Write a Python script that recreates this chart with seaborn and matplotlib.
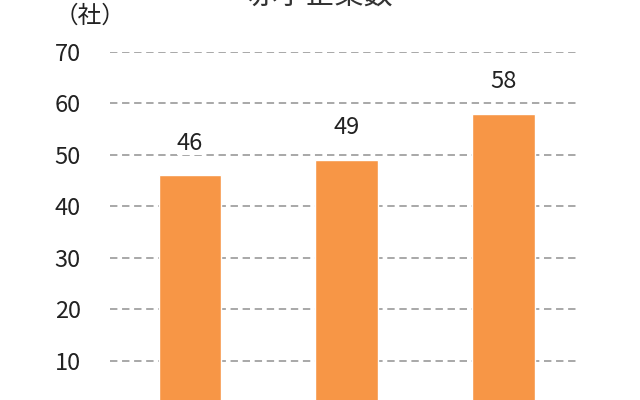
import pandas as pd
import seaborn as sns
import matplotlib.pyplot as plt

# values
categories = ['A', 'B', 'C']
counts = [46, 49, 58]
yticks = [0, 10, 20, 30, 40, 50, 60, 70]
title_text = '赤字企業数'
unit_text = '（社）'

df = pd.DataFrame({'cat': categories, 'count': counts})

sns.set_style('white')
plt.rcParams['font.family'] = ['Liberation Sans Narrow', 'Noto Sans CJK JP', 'DejaVu Sans']

fig = plt.figure(figsize=(6.4, 4), dpi=100)
ax = fig.add_axes([0.172, -0.030, 0.730, 0.900])

ax.yaxis.grid(True, color='#a8a8a8', linestyle=(0, (3.8, 2.4)), linewidth=1.4)
ax.set_axisbelow(True)

sns.barplot(data=df, x='cat', y='count', color='#F79646', width=0.40,
            saturation=1, ax=ax)

for i, v in enumerate(counts):
    ax.annotate(str(v), (i, v), xytext=(0, 32), textcoords='offset pixels',
                ha='center', va='center', fontsize=17, color='#222222',
                bbox=dict(facecolor='white', edgecolor='none', pad=0))

ax.set_ylim(0, 70)
ax.set_xlim(-0.51, 2.47)
ax.set_yticks(yticks)
ax.set_yticklabels([str(t) for t in yticks], fontsize=17, color='#222222')
# category labels fall below the visible area in the reference
ax.set_xticklabels([])
ax.tick_params(axis='y', length=0, pad=21)
ax.tick_params(axis='x', length=0)
ax.set_xlabel('')
ax.set_ylabel('')
sns.despine(ax=ax, left=True, bottom=True)

fig.text(0.5, 1.0 - (-4) / 400, title_text, ha='center', va='center',
         fontsize=21, color='#333333', family=['Noto Sans CJK JP', 'DejaVu Sans'])
fig.text(90 / 640, 1 - 16 / 400, unit_text, ha='center', va='center',
         fontsize=17, color='#222222', family=['Noto Sans CJK JP', 'DejaVu Sans'])

fig.savefig('out.png', dpi=100)
